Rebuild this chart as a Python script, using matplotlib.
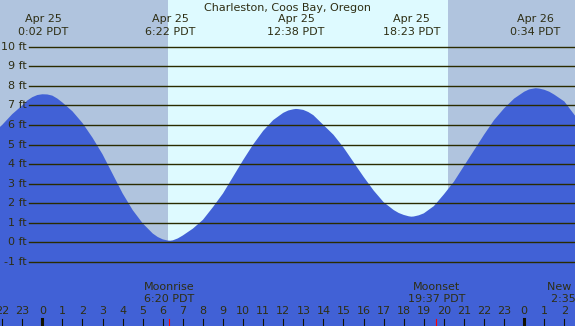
import matplotlib
matplotlib.use('Agg')
import matplotlib.pyplot as plt
import matplotlib.transforms as mtrans

# --- data ---
# tide height (ft) against hours from midnight Apr 25 (PDT)
tide_hours = [-2.11, -2.0, -1.5, -1.0, -0.75, -0.5, -0.25, 0.0, 0.25, 0.5, 0.75, 1.0,
              1.5, 2.0, 2.5, 3.0, 3.5, 4.0, 4.5, 5.0, 5.5, 5.75, 6.0, 6.25, 6.37,
              6.5, 6.75, 7.0, 7.5, 8.0, 8.5, 9.0, 9.5, 10.0, 10.5, 11.0, 11.5, 12.0,
              12.25, 12.5, 12.63, 12.75, 13.0, 13.25, 13.5, 14.0, 14.5, 15.0, 15.5,
              16.0, 16.5, 17.0, 17.5, 17.75, 18.0, 18.25, 18.38, 18.5, 18.75, 19.0,
              19.5, 20.0, 20.5, 21.0, 21.5, 22.0, 22.5, 23.0, 23.5, 24.0, 24.25,
              24.57, 24.75, 25.0, 25.25, 25.5, 26.0, 26.55]
tide_ft = [5.9, 6.0, 6.55, 7.0, 7.25, 7.42, 7.53, 7.57, 7.56, 7.5, 7.35, 7.15,
           6.7, 6.1, 5.35, 4.5, 3.5, 2.5, 1.65, 0.97, 0.45, 0.27, 0.15, 0.09, 0.08,
           0.1, 0.2, 0.35, 0.7, 1.15, 1.8, 2.5, 3.35, 4.2, 5.0, 5.7, 6.25, 6.62,
           6.74, 6.8, 6.82, 6.81, 6.77, 6.66, 6.5, 6.0, 5.5, 4.85, 4.1,
           3.35, 2.65, 2.05, 1.65, 1.5, 1.4, 1.33, 1.31, 1.32, 1.38, 1.48,
           1.85, 2.45, 3.1, 3.9, 4.7, 5.5, 6.25, 6.85, 7.35, 7.7, 7.82,
           7.88, 7.86, 7.8, 7.7, 7.55, 7.2, 6.45]

# high / low tide labels along the top
extreme_hours = [0.033, 6.367, 12.633, 18.383, 24.567]
extreme_dates = ['Apr 25', 'Apr 25', 'Apr 25', 'Apr 25', 'Apr 26']
extreme_times = ['0:02 PDT', '6:22 PDT', '12:38 PDT', '18:23 PDT', '0:34 PDT']

sunrise, sunset = 6.25, 20.2

moon_hours = [6.333, 19.617, 26.583]
moon_names = ['Moonrise', 'Moonset', 'New Moon']
moon_times = ['6:20 PDT', '19:37 PDT', '2:35 PDT']

hour_ticks = list(range(-2, 27))
feet_lines = list(range(-1, 11))

x_lo, x_hi = -2.107, 26.53
y_lo, y_hi = -4.28, 12.39

# --- figure ---
W, H = 575, 326
fig = plt.figure(figsize=(W / 100, H / 100), dpi=100)
ax = fig.add_axes([0, 0, 1, 1])
ax.set_xlim(x_lo, x_hi)
ax.set_ylim(y_lo, y_hi)
ax.axis('off')

night = '#b0c4de'
day = '#defaff'
blue = '#4161d6'
ink = '#2e2e14'
line_col = '#2b2b00'
fs = 8

ax.axvspan(x_lo, sunrise, color=night, lw=0, zorder=0)
ax.axvspan(sunrise, sunset, color=day, lw=0, zorder=0)
ax.axvspan(sunset, x_hi, color=night, lw=0, zorder=0)

ax.fill_between(tide_hours, y_lo, tide_ft, color=blue, lw=0, zorder=1)

# feet gridlines + labels
for f in feet_lines:
    ax.axhline(f, xmin=29 / W, xmax=1, color=line_col, lw=1.0, zorder=2)
    ax.text(27 / W, f, f'{f} ft', transform=ax.get_yaxis_transform(),
            ha='right', va='center', fontsize=fs, color=ink, zorder=3)

# top labels
top = mtrans.blended_transform_factory(ax.transData, ax.transAxes)
ax.text(287 / W, 1 - 8 / H, 'Charleston, Coos Bay, Oregon', transform=ax.transAxes,
        ha='center', va='center', fontsize=fs, color=ink)
for h, d, t in zip(extreme_hours, extreme_dates, extreme_times):
    ax.text(h, 1 - 19.5 / H, d, transform=top, ha='center', va='center', fontsize=fs, color=ink)
    ax.text(h, 1 - 32 / H, t, transform=top, ha='center', va='center', fontsize=fs, color=ink)

# moon labels
for h, n, t in zip(moon_hours, moon_names, moon_times):
    ax.text(h, 1 - 286.5 / H, n, transform=top, ha='center', va='center', fontsize=fs, color=ink)
    ax.text(h, 1 - 299.5 / H, t, transform=top, ha='center', va='center', fontsize=fs, color=ink)

# hour labels and ticks
for h in hour_ticks:
    ax.text(h, 1 - 311.5 / H, str(h % 24), transform=top, ha='center', va='center',
            fontsize=fs, color=ink)
    thick = (h % 24 == 0)
    ax.axvline(h, ymin=0, ymax=7 / H, color='#111100', lw=2.2 if thick else 0.8, zorder=3)

for h in moon_hours[:2]:
    ax.axvline(h, ymin=0, ymax=7 / H, color='#ff0000', lw=0.8, zorder=3)

fig.savefig('out.png', dpi=100)
